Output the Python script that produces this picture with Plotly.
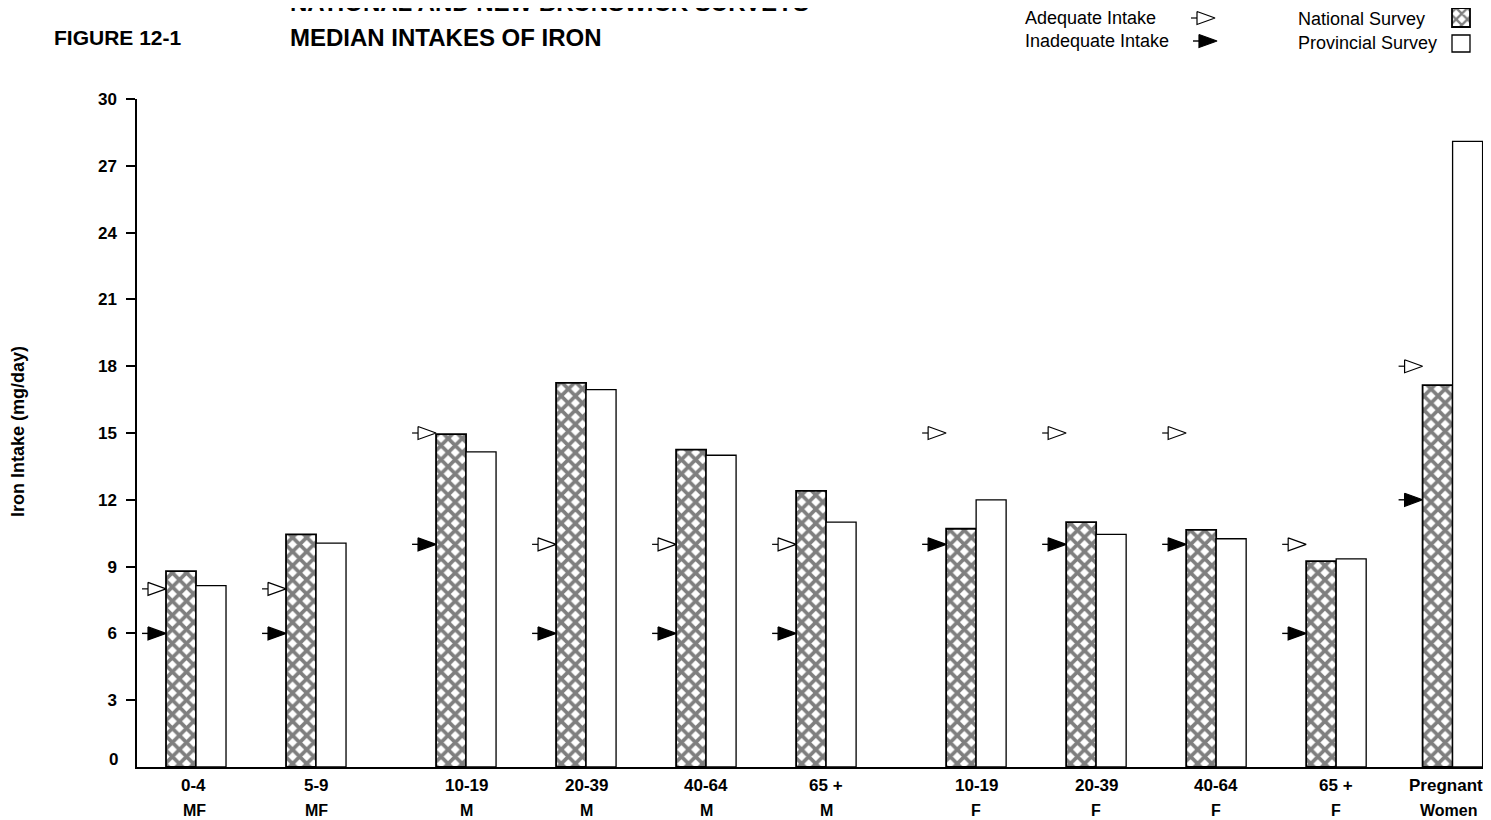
import plotly.graph_objects as go

# ---------------- data ----------------
age_groups = ["0-4", "5-9", "10-19", "20-39", "40-64", "65 +", "10-19", "20-39", "40-64", "65 +", "Pregnant"]
sex_groups = ["MF", "MF", "M", "M", "M", "M", "F", "F", "F", "F", "Women"]
national = [8.8, 10.45, 14.95, 17.25, 14.25, 12.4, 10.7, 11.0, 10.65, 9.25, 17.15]
provincial = [8.15, 10.05, 14.15, 16.95, 14.0, 11.0, 12.0, 10.45, 10.25, 9.35, 28.1]
adequate = [8, 8, 15, 10, 10, 10, 15, 15, 15, 10, 18]
inadequate = [6, 6, 10, 6, 6, 6, 10, 10, 10, 6, 12]
y_ticks = [3, 6, 9, 12, 15, 18, 21, 24, 27, 30]

# ---------------- layout constants (reference pixel coordinates) ----------------
OFF = 8                        # page body margin
W, H = 1491 - OFF, 820 - OFF   # figure size
PLOT_L = 137                   # left of plot area (ref px)
PLOT_T = 99                    # top of plot area (ref px)
PLOT_B = 767                   # baseline (ref px)
MB = 820 - PLOT_B
PH = H - MB                    # paper height
group_pos = [0, 1, 2.25, 3.25, 4.25, 5.25, 6.5, 7.5, 8.5, 9.5, 10.47]
label_shift = [-3, 0, 0, 0, 0, 0, 0, 0, 0, 0, -7]
x_range = [-0.4917, 10.79]
y_range = [0, 30]
BAR_W = 0.25
XPPU = (1491 - PLOT_L) / (x_range[1] - x_range[0])
YPPU = (PLOT_B - PLOT_T) / (y_range[1] - y_range[0])

TRI_LEN = 18   # px
TRI_H = 13     # px
TAIL = 6       # px

FONT = "Liberation Sans, Arial, Helvetica, sans-serif"


def px(x):
    return (x - OFF) / W


def py(y):
    return 1 - (y - OFF) / PH


def arrow_geom(xs_tip, ys_val, xppu, yppu, ysign=1):
    tx, ty, lx, ly = [], [], [], []
    for xt, v in zip(xs_tip, ys_val):
        back = xt - TRI_LEN / xppu
        h = TRI_H / 2 / yppu * ysign
        tx += [back, xt, back, back, None]
        ty += [v + h, v, v - h, v + h, None]
        lx += [back - TAIL / xppu, back, None]
        ly += [v, v, None]
    return tx, ty, lx, ly


fig = go.Figure()

# national bars (cross hatched)
fig.add_trace(go.Bar(
    x=group_pos, y=national, width=BAR_W, offset=-BAR_W,
    marker=dict(color="white", line=dict(color="black", width=1.8),
                pattern=dict(shape="x", fgcolor="black", bgcolor="white", size=10, solidity=0.6)),
    showlegend=False, hoverinfo="skip"))

# provincial bars (open)
fig.add_trace(go.Bar(
    x=group_pos, y=provincial, width=BAR_W, offset=0,
    marker=dict(color="white", line=dict(color="black", width=1.3)),
    showlegend=False, hoverinfo="skip"))

tips = [p - BAR_W for p in group_pos]

# adequate (open) arrows
tx, ty, lx, ly = arrow_geom(tips, adequate, XPPU, YPPU)
fig.add_trace(go.Scatter(x=lx, y=ly, mode="lines", line=dict(color="black", width=1.2),
                         showlegend=False, hoverinfo="skip"))
fig.add_trace(go.Scatter(x=tx, y=ty, mode="lines", fill="toself", fillcolor="white",
                         line=dict(color="black", width=1.2), showlegend=False, hoverinfo="skip"))

# inadequate (filled) arrows
tx, ty, lx, ly = arrow_geom(tips, inadequate, XPPU, YPPU)
fig.add_trace(go.Scatter(x=lx, y=ly, mode="lines", line=dict(color="black", width=1.4),
                         showlegend=False, hoverinfo="skip"))
fig.add_trace(go.Scatter(x=tx, y=ty, mode="lines", fill="toself", fillcolor="black",
                         line=dict(color="black", width=1.2), showlegend=False, hoverinfo="skip"))

# ---------------- legend symbols on a pixel overlay axis ----------------
ltx, lty, llx, lly = arrow_geom([1215], [18], 1, 1, ysign=-1)
fig.add_trace(go.Scatter(x=llx, y=lly, mode="lines", line=dict(color="black", width=1.2),
                         xaxis="x2", yaxis="y2", showlegend=False, hoverinfo="skip"))
fig.add_trace(go.Scatter(x=ltx, y=lty, mode="lines", fill="toself", fillcolor="white",
                         line=dict(color="black", width=1.2), xaxis="x2", yaxis="y2",
                         showlegend=False, hoverinfo="skip"))
ltx, lty, llx, lly = arrow_geom([1217], [41], 1, 1, ysign=-1)
fig.add_trace(go.Scatter(x=llx, y=lly, mode="lines", line=dict(color="black", width=1.4),
                         xaxis="x2", yaxis="y2", showlegend=False, hoverinfo="skip"))
fig.add_trace(go.Scatter(x=ltx, y=lty, mode="lines", fill="toself", fillcolor="black",
                         line=dict(color="black", width=1.2), xaxis="x2", yaxis="y2",
                         showlegend=False, hoverinfo="skip"))
fig.add_trace(go.Bar(
    x=[1461], y=[19], base=[8], width=[18], xaxis="x2", yaxis="y2",
    marker=dict(color="white", line=dict(color="black", width=1.8),
                pattern=dict(shape="x", fgcolor="black", bgcolor="white", size=8, solidity=0.5)),
    showlegend=False, hoverinfo="skip"))

shapes = [dict(type="rect", xref="x2", yref="y2", x0=1452, x1=1470, y0=35, y1=52,
               line=dict(color="black", width=1.3), fillcolor="white")]

annotations = []
# title block
annotations.append(dict(text="<b>FIGURE 12-1</b>", x=px(52), y=py(38), xref="paper", yref="paper",
                        xanchor="left", yanchor="middle", showarrow=False,
                        font=dict(family=FONT, size=21, color="black")))
annotations.append(dict(text="<b>MEDIAN INTAKES OF IRON</b>", x=px(288), y=py(38), xref="paper", yref="paper",
                        xanchor="left", yanchor="middle", showarrow=False,
                        font=dict(family=FONT, size=24, color="black")))
annotations.append(dict(text="<b>NATIONAL AND NEW BRUNSWICK SURVEYS</b>", x=px(288), y=py(2), xref="paper",
                        yref="paper", xanchor="left", yanchor="middle", showarrow=False,
                        font=dict(family=FONT, size=24, color="black")))
# legend texts
for txt, xx, yy in [("Adequate Intake", 1023, 18), ("Inadequate Intake", 1023, 41),
                    ("National Survey", 1296, 19), ("Provincial Survey", 1296, 43)]:
    annotations.append(dict(text=txt, x=px(xx), y=py(yy), xref="paper", yref="paper",
                            xanchor="left", yanchor="middle", showarrow=False,
                            font=dict(family=FONT, size=18, color="black")))
# y axis title
annotations.append(dict(text="<b>Iron Intake (mg/day)</b>", x=px(18), y=py(432), xref="paper", yref="paper",
                        xanchor="center", yanchor="middle", textangle=-90, showarrow=False,
                        font=dict(family=FONT, size=18, color="black")))
# zero label (sits slightly above the baseline in the original)
annotations.append(dict(text="<b>0</b>", x=px(120), y=py(759), xref="paper", yref="paper",
                        xanchor="right", yanchor="middle", showarrow=False,
                        font=dict(family=FONT, size=17, color="black")))
# category labels (two lines)
for p, a, s, sh in zip(group_pos, age_groups, sex_groups, label_shift):
    annotations.append(dict(text=f"<b>{a}</b>", x=p, y=0, xref="x", yref="paper",
                            xanchor="center", yanchor="middle", yshift=-18, xshift=sh, showarrow=False,
                            font=dict(family=FONT, size=17, color="black")))
    annotations.append(dict(text=f"<b>{s}</b>", x=p, y=0, xref="x", yref="paper",
                            xanchor="center", yanchor="middle", yshift=-43, xshift=sh // 2, showarrow=False,
                            font=dict(family=FONT, size=16, color="black")))

fig.update_layout(
    width=W, height=H,
    margin=dict(l=0, r=0, t=0, b=MB, autoexpand=False),
    paper_bgcolor="white", plot_bgcolor="rgba(0,0,0,0)",
    barmode="overlay",
    showlegend=False,
    xaxis=dict(domain=[(PLOT_L - OFF) / W, 1], range=x_range, showline=True, linecolor="black", linewidth=1.5,
               showticklabels=False, ticks="", showgrid=False, zeroline=False, fixedrange=True,
               automargin=False),
    yaxis=dict(domain=[0, (PLOT_B - PLOT_T) / PH], range=y_range, tickvals=y_ticks,
               ticktext=[f"<b>{t}</b>" for t in y_ticks],
               ticks="outside", ticklen=9, tickwidth=1.5, tickcolor="black",
               showline=True, linecolor="black", linewidth=1.5, showgrid=False, zeroline=False,
               tickfont=dict(family=FONT, size=17, color="black"), ticklabelstandoff=6,
               fixedrange=True, automargin=False),
    xaxis2=dict(domain=[0, 1], range=[OFF, OFF + W], anchor="y2", visible=False, fixedrange=True,
                automargin=False),
    yaxis2=dict(domain=[0, 1], range=[OFF + PH, OFF], anchor="x2", visible=False, fixedrange=True,
                automargin=False),
    shapes=shapes,
    annotations=annotations,
)

fig.write_html("out.html")
